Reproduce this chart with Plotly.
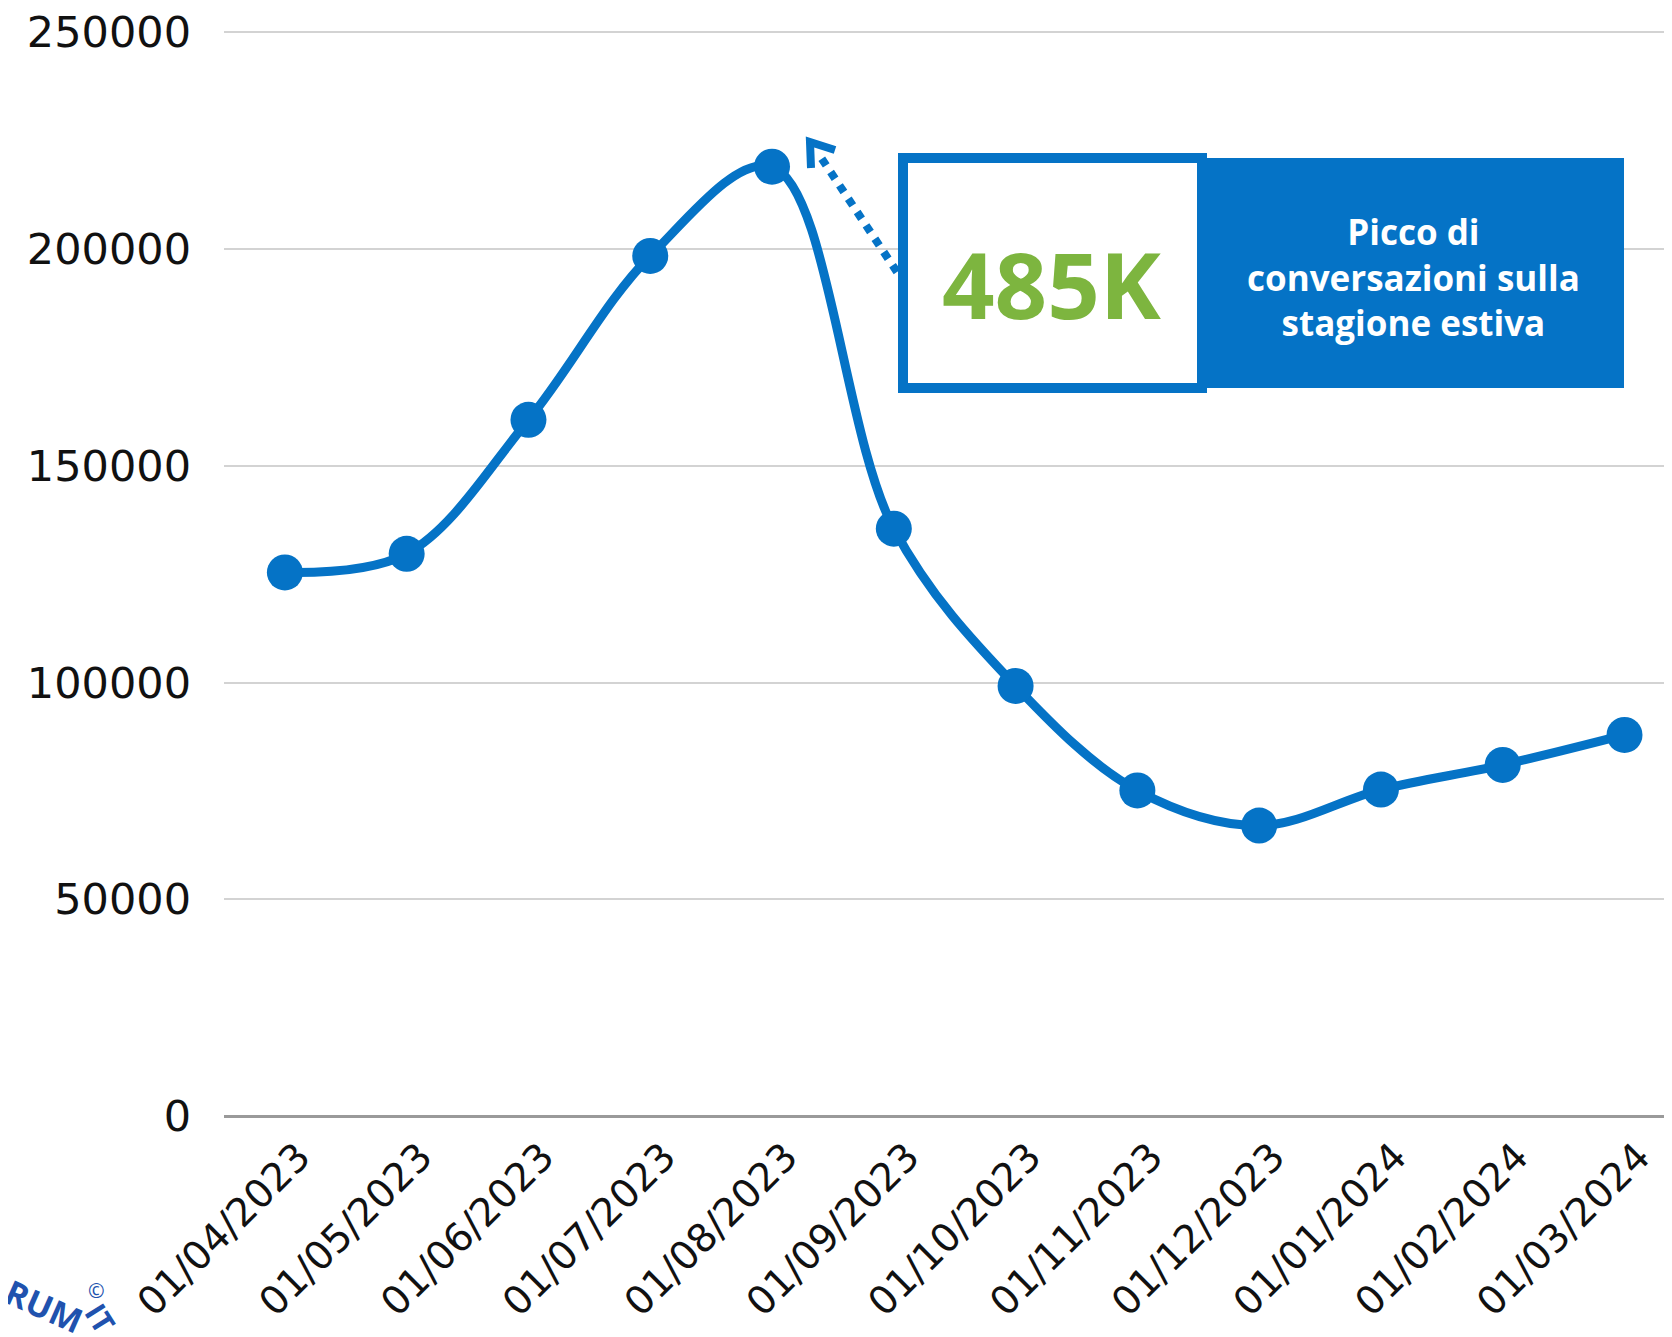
import plotly.graph_objects as go

# ---- data ----
dates = ["01/04/2023", "01/05/2023", "01/06/2023", "01/07/2023", "01/08/2023", "01/09/2023",
         "01/10/2023", "01/11/2023", "01/12/2023", "01/01/2024", "01/02/2024", "01/03/2024"]
conversations = [125400, 129700, 160600, 198400, 219000, 135500,
                 99200, 75100, 67000, 75300, 81000, 87900]
y_ticks = [0, 50000, 100000, 150000, 200000, 250000]

highlight_value = "485K"
highlight_lines = ["Picco di", "conversazioni sulla", "stagione estiva"]

BLUE = "#0573C6"
GREEN = "#7DB53F"
LOGO = "#2052AE"

OFF = 8  # page body margin
W, H = 1672 - OFF, 1337 - OFF
L, R, T = 224 - OFF, 0, 31 - OFF
B = H - (1116 - OFF)
PW, PH = W - L - R, H - T - B


def px(x):  # screen x -> paper
    return (x - OFF - L) / PW


def py(y):  # screen y -> paper
    return (H - B - (y - OFF)) / PH


fig = go.Figure()
fig.add_trace(go.Scatter(
    x=dates, y=conversations, mode="lines+markers",
    line=dict(color=BLUE, width=9, shape="spline", smoothing=1.0),
    marker=dict(color=BLUE, size=36),
    cliponaxis=False, showlegend=False,
))

shapes = [
    dict(type="rect", xref="paper", yref="paper", x0=px(1202), x1=px(1624), y0=py(388), y1=py(158),
         fillcolor=BLUE, line=dict(width=0), layer="above"),
    dict(type="rect", xref="paper", yref="paper", x0=px(903), x1=px(1202), y0=py(388), y1=py(158),
         fillcolor="white", line=dict(color=BLUE, width=10), layer="above"),
    dict(type="line", xref="paper", yref="paper", x0=px(897), y0=py(272), x1=px(818), y1=py(153),
         line=dict(color=BLUE, width=8, dash="dot"), layer="above"),
    dict(type="path", xref="paper", yref="paper",
         path=f"M {px(811)},{py(168)} L {px(810)},{py(142)} L {px(835)},{py(150)}",
         line=dict(color=BLUE, width=8), layer="above"),
]

annotations = [
    dict(text=f"<b>{highlight_value}</b>", xref="paper", yref="paper", x=px(1052), y=py(284),
         showarrow=False, xanchor="center", yanchor="middle",
         font=dict(family="Open Sans", size=92, color=GREEN)),
    dict(text="<br>".join(f"<b>{s}</b>" for s in highlight_lines), xref="paper", yref="paper",
         x=px(1413), y=py(277), showarrow=False, xanchor="center", yanchor="middle", align="center",
         font=dict(family="Open Sans", size=35, color="white")),
    # partial logo in the bottom-left corner
    dict(text="<b>RUM</b>", xref="paper", yref="paper", x=px(44), y=py(1306), showarrow=False,
         xanchor="center", yanchor="middle",
         textangle=24, font=dict(family="Open Sans", size=34, color=LOGO)),
    dict(text="<b>IT</b>", xref="paper", yref="paper", x=px(101), y=py(1318), showarrow=False,
         xanchor="center", yanchor="middle",
         textangle=58, font=dict(family="Open Sans", size=30, color=LOGO)),
    dict(text="©", xref="paper", yref="paper", x=px(96), y=py(1290), showarrow=False,
         xanchor="center", yanchor="middle",
         font=dict(family="Open Sans", size=20, color=LOGO)),
]

fig.update_layout(
    width=W, height=H,
    margin=dict(l=L, r=R, t=T, b=B, pad=0),
    paper_bgcolor="white", plot_bgcolor="white",
    shapes=shapes, annotations=annotations,
    xaxis=dict(type="category", range=[-0.5, 11.39], tickangle=-45, showgrid=False,
               showline=False, zeroline=False, automargin=False, ticks="",
               ticklabelshift=14, ticklabelstandoff=9, ticklabeloverflow="allow",
               tickfont=dict(family="DejaVu Sans", size=39, color="#111")),
    yaxis=dict(range=[0, 250300], tickvals=y_ticks, ticktext=[str(v) for v in y_ticks],
               showgrid=True, gridcolor="#D3D3D3", gridwidth=2,
               zeroline=True, zerolinecolor="#9A9A9A", zerolinewidth=3,
               showline=False, automargin=False, ticks="", ticklabelstandoff=32,
               ticklabeloverflow="allow",
               tickfont=dict(family="DejaVu Sans", size=43, color="#111")),
)

fig.write_html("out.html")
